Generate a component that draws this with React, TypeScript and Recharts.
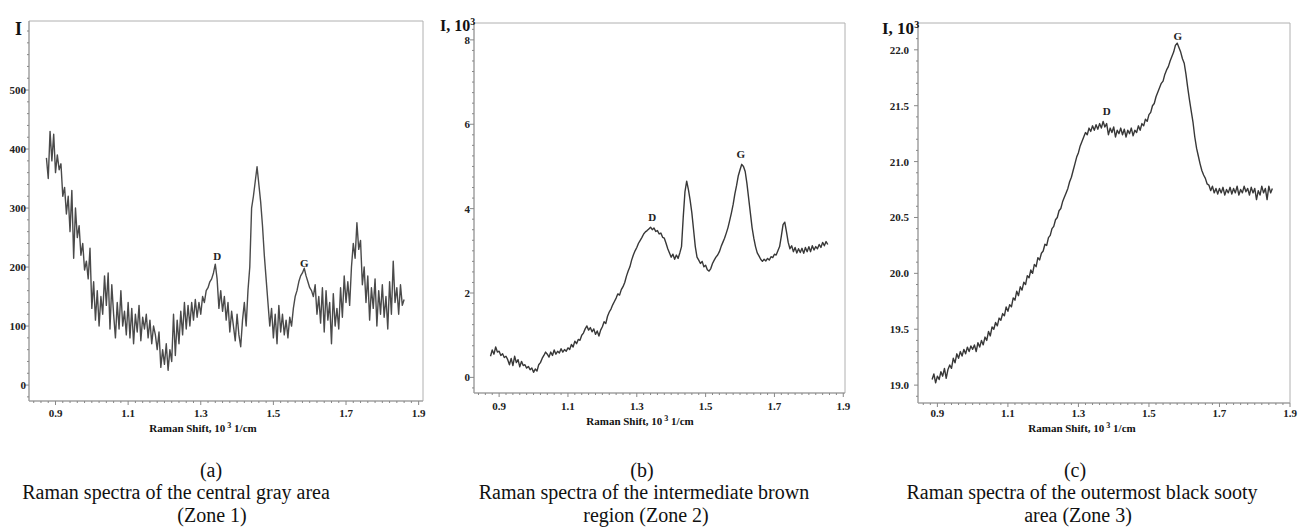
import React from "react";
import { LineChart, Line, XAxis, YAxis, ReferenceArea, ReferenceDot } from "recharts";

// the page keeps the browser's 8px body margin; the figure is laid out edge to edge
document.body.style.margin = "0";

// Raman shift (10^3 1/cm) vs intensity
const zone1Spectrum: [number, number][] = [
  [0.875, 385], [0.88, 350], [0.885, 430], [0.89, 380], [0.895, 425], [0.9, 360], [0.905, 390], [0.91, 365],
  [0.915, 375], [0.92, 320], [0.925, 335], [0.93, 290], [0.935, 320], [0.94, 260], [0.945, 330], [0.95, 215],
  [0.955, 300], [0.96, 250], [0.965, 270], [0.97, 220], [0.975, 240], [0.98, 195], [0.985, 210], [0.99, 180],
  [0.995, 232], [1.0, 130], [1.005, 175], [1.01, 110], [1.015, 160], [1.02, 100], [1.025, 150], [1.03, 120],
  [1.035, 185], [1.04, 135], [1.045, 190], [1.05, 95], [1.055, 170], [1.06, 120], [1.065, 80], [1.07, 140],
  [1.075, 95], [1.08, 160], [1.085, 100], [1.09, 125], [1.095, 85], [1.1, 140], [1.105, 80], [1.11, 130],
  [1.115, 70], [1.12, 120], [1.125, 90], [1.13, 135], [1.135, 75], [1.14, 115], [1.145, 95], [1.15, 120],
  [1.155, 80], [1.16, 110], [1.165, 70], [1.17, 100], [1.175, 85], [1.18, 60], [1.185, 90], [1.19, 30],
  [1.195, 60], [1.2, 35], [1.205, 70], [1.21, 25], [1.215, 60], [1.22, 40], [1.225, 120], [1.23, 50],
  [1.235, 110], [1.24, 70], [1.245, 125], [1.25, 85], [1.255, 140], [1.26, 95], [1.265, 135], [1.27, 100],
  [1.275, 140], [1.28, 110], [1.285, 145], [1.29, 115], [1.295, 140], [1.3, 120], [1.305, 150], [1.31, 140],
  [1.315, 160], [1.32, 165], [1.325, 175], [1.33, 180], [1.335, 190], [1.34, 205], [1.345, 180], [1.35, 130],
  [1.355, 160], [1.36, 125], [1.365, 150], [1.37, 110], [1.375, 140], [1.38, 90], [1.385, 125], [1.39, 100],
  [1.395, 75], [1.4, 120], [1.405, 85], [1.41, 65], [1.415, 110], [1.42, 140], [1.425, 100], [1.43, 160],
  [1.435, 200], [1.44, 300], [1.445, 320], [1.45, 345], [1.455, 370], [1.46, 340], [1.465, 310], [1.47, 270],
  [1.475, 220], [1.48, 180], [1.485, 140], [1.49, 100], [1.495, 130], [1.5, 80], [1.505, 120], [1.51, 70],
  [1.515, 135], [1.52, 90], [1.525, 120], [1.53, 85], [1.535, 110], [1.54, 80], [1.545, 115], [1.55, 100],
  [1.555, 130], [1.56, 150], [1.565, 160], [1.57, 175], [1.575, 185], [1.58, 190], [1.585, 198], [1.59, 185],
  [1.595, 175], [1.6, 165], [1.605, 160], [1.61, 150], [1.615, 170], [1.62, 120], [1.625, 150], [1.63, 105],
  [1.635, 165], [1.64, 90], [1.645, 160], [1.65, 110], [1.655, 140], [1.66, 70], [1.665, 155], [1.67, 100],
  [1.675, 130], [1.68, 95], [1.685, 165], [1.69, 115], [1.695, 185], [1.7, 140], [1.705, 175], [1.71, 135],
  [1.715, 200], [1.72, 240], [1.725, 215], [1.73, 275], [1.735, 230], [1.74, 245], [1.745, 170], [1.75, 200],
  [1.755, 140], [1.76, 185], [1.765, 110], [1.77, 165], [1.775, 130], [1.78, 180], [1.785, 100], [1.79, 160],
  [1.795, 120], [1.8, 170], [1.805, 115], [1.81, 150], [1.815, 95], [1.82, 175], [1.825, 120], [1.83, 210],
  [1.835, 140], [1.84, 165], [1.845, 120], [1.85, 170], [1.855, 135], [1.86, 145],
];

const zone2Spectrum: [number, number][] = [
  [0.875, 0.5], [0.88, 0.65], [0.885, 0.55], [0.89, 0.72], [0.895, 0.6], [0.9, 0.62], [0.905, 0.52], [0.91, 0.56],
  [0.915, 0.47], [0.92, 0.5], [0.925, 0.42], [0.93, 0.3], [0.935, 0.45], [0.94, 0.28], [0.945, 0.5], [0.95, 0.35],
  [0.955, 0.42], [0.96, 0.25], [0.965, 0.38], [0.97, 0.28], [0.975, 0.3], [0.98, 0.22], [0.985, 0.26], [0.99, 0.18],
  [0.995, 0.22], [1.0, 0.12], [1.005, 0.2], [1.01, 0.15], [1.015, 0.3], [1.02, 0.35], [1.025, 0.45], [1.03, 0.52],
  [1.035, 0.6], [1.04, 0.55], [1.045, 0.48], [1.05, 0.6], [1.055, 0.52], [1.06, 0.65], [1.065, 0.55], [1.07, 0.62],
  [1.075, 0.58], [1.08, 0.68], [1.085, 0.6], [1.09, 0.66], [1.095, 0.62], [1.1, 0.7], [1.105, 0.66], [1.11, 0.78],
  [1.115, 0.72], [1.12, 0.86], [1.125, 0.8], [1.13, 0.9], [1.135, 0.88], [1.14, 1.0], [1.145, 1.05], [1.15, 1.15],
  [1.155, 1.22], [1.16, 1.12], [1.165, 1.18], [1.17, 1.08], [1.175, 1.15], [1.18, 1.02], [1.185, 1.1], [1.19, 0.98],
  [1.195, 1.12], [1.2, 1.2], [1.205, 1.32], [1.21, 1.28], [1.215, 1.45], [1.22, 1.55], [1.225, 1.62], [1.23, 1.72],
  [1.235, 1.8], [1.24, 1.88], [1.245, 1.98], [1.25, 1.95], [1.255, 2.08], [1.26, 2.15], [1.265, 2.25], [1.27, 2.4],
  [1.275, 2.52], [1.28, 2.62], [1.285, 2.78], [1.29, 2.9], [1.295, 3.0], [1.3, 3.08], [1.305, 3.18], [1.31, 3.25],
  [1.315, 3.32], [1.32, 3.4], [1.325, 3.45], [1.33, 3.48], [1.335, 3.52], [1.34, 3.56], [1.345, 3.5], [1.35, 3.54],
  [1.355, 3.46], [1.36, 3.48], [1.365, 3.4], [1.37, 3.42], [1.375, 3.32], [1.38, 3.3], [1.385, 3.18], [1.39, 3.05],
  [1.395, 2.95], [1.4, 2.85], [1.405, 2.92], [1.41, 2.8], [1.415, 2.9], [1.42, 2.82], [1.425, 2.95], [1.43, 3.1],
  [1.435, 3.8], [1.44, 4.4], [1.445, 4.65], [1.45, 4.45], [1.455, 4.2], [1.46, 3.9], [1.465, 3.5], [1.47, 3.1],
  [1.475, 2.85], [1.48, 2.78], [1.485, 2.7], [1.49, 2.75], [1.495, 2.62], [1.5, 2.66], [1.505, 2.55], [1.51, 2.52],
  [1.515, 2.58], [1.52, 2.7], [1.525, 2.78], [1.53, 2.85], [1.535, 2.9], [1.54, 2.98], [1.545, 3.1], [1.55, 3.2],
  [1.555, 3.3], [1.56, 3.42], [1.565, 3.55], [1.57, 3.72], [1.575, 3.9], [1.58, 4.1], [1.585, 4.35], [1.59, 4.55],
  [1.595, 4.78], [1.6, 4.92], [1.605, 5.05], [1.61, 5.0], [1.615, 4.88], [1.62, 4.6], [1.625, 4.25], [1.63, 3.9],
  [1.635, 3.55], [1.64, 3.3], [1.645, 3.1], [1.65, 2.95], [1.655, 2.88], [1.66, 2.8], [1.665, 2.75], [1.67, 2.8],
  [1.675, 2.76], [1.68, 2.82], [1.685, 2.78], [1.69, 2.86], [1.695, 2.84], [1.7, 2.92], [1.705, 2.9], [1.71, 3.0],
  [1.715, 3.1], [1.72, 3.35], [1.725, 3.62], [1.73, 3.68], [1.735, 3.45], [1.74, 3.2], [1.745, 3.05], [1.75, 3.12],
  [1.755, 2.98], [1.76, 3.08], [1.765, 2.95], [1.77, 3.05], [1.775, 2.96], [1.78, 3.06], [1.785, 2.94], [1.79, 3.08],
  [1.795, 2.98], [1.8, 3.1], [1.805, 2.98], [1.81, 3.12], [1.815, 3.02], [1.82, 3.1], [1.825, 3.05], [1.83, 3.15],
  [1.835, 3.08], [1.84, 3.2], [1.845, 3.12], [1.85, 3.22], [1.855, 3.15],
];

const zone3Spectrum: [number, number][] = [
  [0.885, 19.05], [0.89, 19.1], [0.895, 19.02], [0.9, 19.08], [0.905, 19.05], [0.91, 19.12], [0.915, 19.08],
  [0.92, 19.15], [0.925, 19.06], [0.93, 19.14], [0.935, 19.18], [0.94, 19.15], [0.945, 19.24], [0.95, 19.2],
  [0.955, 19.28], [0.96, 19.24], [0.965, 19.3], [0.97, 19.26], [0.975, 19.32], [0.98, 19.28], [0.985, 19.34],
  [0.99, 19.3], [0.995, 19.35], [1.0, 19.32], [1.005, 19.36], [1.01, 19.3], [1.015, 19.38], [1.02, 19.34],
  [1.025, 19.4], [1.03, 19.36], [1.035, 19.43], [1.04, 19.4], [1.045, 19.48], [1.05, 19.44], [1.055, 19.52],
  [1.06, 19.5], [1.065, 19.56], [1.07, 19.53], [1.075, 19.6], [1.08, 19.58], [1.085, 19.64], [1.09, 19.62],
  [1.095, 19.7], [1.1, 19.66], [1.105, 19.72], [1.11, 19.7], [1.115, 19.78], [1.12, 19.76], [1.125, 19.84],
  [1.13, 19.8], [1.135, 19.88], [1.14, 19.85], [1.145, 19.92], [1.15, 19.9], [1.155, 19.98], [1.16, 19.96],
  [1.165, 20.03], [1.17, 20.0], [1.175, 20.08], [1.18, 20.06], [1.185, 20.14], [1.19, 20.12], [1.195, 20.18],
  [1.2, 20.2], [1.205, 20.26], [1.21, 20.25], [1.215, 20.32], [1.22, 20.34], [1.225, 20.4], [1.23, 20.42],
  [1.235, 20.48], [1.24, 20.5], [1.245, 20.56], [1.25, 20.58], [1.255, 20.64], [1.26, 20.68], [1.265, 20.72],
  [1.27, 20.76], [1.275, 20.82], [1.28, 20.86], [1.285, 20.92], [1.29, 20.98], [1.295, 21.04], [1.3, 21.08],
  [1.305, 21.14], [1.31, 21.18], [1.315, 21.22], [1.32, 21.26], [1.325, 21.24], [1.33, 21.3], [1.335, 21.27],
  [1.34, 21.32], [1.345, 21.28], [1.35, 21.33], [1.355, 21.29], [1.36, 21.34], [1.365, 21.3], [1.37, 21.36],
  [1.375, 21.31], [1.38, 21.34], [1.385, 21.24], [1.39, 21.3], [1.395, 21.26], [1.4, 21.31], [1.405, 21.22],
  [1.41, 21.28], [1.415, 21.25], [1.42, 21.3], [1.425, 21.24], [1.43, 21.29], [1.435, 21.22], [1.44, 21.28],
  [1.445, 21.25], [1.45, 21.3], [1.455, 21.23], [1.46, 21.28], [1.465, 21.26], [1.47, 21.32], [1.475, 21.28],
  [1.48, 21.34], [1.485, 21.32], [1.49, 21.38], [1.495, 21.36], [1.5, 21.42], [1.505, 21.44], [1.51, 21.5],
  [1.515, 21.52], [1.52, 21.58], [1.525, 21.62], [1.53, 21.66], [1.535, 21.7], [1.54, 21.72], [1.545, 21.78],
  [1.55, 21.82], [1.555, 21.85], [1.56, 21.9], [1.565, 21.94], [1.57, 21.98], [1.575, 22.04], [1.58, 22.06],
  [1.585, 22.02], [1.59, 21.98], [1.595, 21.92], [1.6, 21.88], [1.605, 21.78], [1.61, 21.66], [1.615, 21.55],
  [1.62, 21.45], [1.625, 21.35], [1.63, 21.22], [1.635, 21.12], [1.64, 21.05], [1.645, 20.98], [1.65, 20.92],
  [1.655, 20.88], [1.66, 20.85], [1.665, 20.8], [1.67, 20.79], [1.675, 20.74], [1.68, 20.78], [1.685, 20.72],
  [1.69, 20.76], [1.695, 20.71], [1.7, 20.76], [1.705, 20.72], [1.71, 20.77], [1.715, 20.7], [1.72, 20.75],
  [1.725, 20.72], [1.73, 20.77], [1.735, 20.71], [1.74, 20.76], [1.745, 20.72], [1.75, 20.78], [1.755, 20.7],
  [1.76, 20.75], [1.765, 20.72], [1.77, 20.78], [1.775, 20.73], [1.78, 20.76], [1.785, 20.7], [1.79, 20.77],
  [1.795, 20.72], [1.8, 20.76], [1.805, 20.66], [1.81, 20.74], [1.815, 20.7], [1.82, 20.78], [1.825, 20.72],
  [1.83, 20.76], [1.835, 20.66], [1.84, 20.78], [1.845, 20.72], [1.85, 20.76],
];

const shiftTicks = [0.9, 1.1, 1.3, 1.5, 1.7, 1.9];
const zone1Ticks = [0, 100, 200, 300, 400, 500];
const zone2Ticks = [0, 2, 4, 6, 8];
const zone3Ticks = [19.0, 19.5, 20.0, 20.5, 21.0, 21.5, 22.0];

const zone1Peaks = [{ name: "D", shift: 1.345, intensity: 219 }, { name: "G", shift: 1.585, intensity: 207 }];
const zone2Peaks = [{ name: "D", shift: 1.345, intensity: 3.79 }, { name: "G", shift: 1.602, intensity: 5.3 }];
const zone3Peaks = [{ name: "D", shift: 1.38, intensity: 21.45 }, { name: "G", shift: 1.582, intensity: 22.125 }];

const serif = "'Liberation Serif', 'Times New Roman', serif";

function steps(from: number, to: number, step: number) {
  const out: number[] = [];
  for (let i = 0; from + i * step <= to + 1e-9; i++) out.push(Math.round((from + i * step) * 1000) / 1000);
  return out;
}

const isMajor = (labels: number[], v: number) => labels.some((l) => Math.abs(l - v) < 1e-6);

function Panel({ width, height, frame, xDomain, yDomain, yLabels, yMinor, yDigits, yGap, xLabelDy, data, peaks, stroke, strokeWidth }: any) {
  const rows = data.map(([shift, intensity]: [number, number]) => ({ shift, intensity }));
  const xTicks = steps(0.84, 1.9, 0.02).filter((v) => v >= xDomain[0] && v <= xDomain[1]);
  const yTicks = steps(yMinor[0], yDomain[1], yMinor[1]).filter((v) => v >= yDomain[0]);

  const xTick = (p: any) => {
    const major = isMajor(shiftTicks, p.payload.value);
    return (
      <g>
        <line x1={p.x} y1={p.y} x2={p.x} y2={p.y + (major ? 4 : 2)} stroke="#888" />
        {major && (
          <text x={p.x} y={p.y + xLabelDy} textAnchor="middle" dominantBaseline="central"
            fontFamily={serif} fontWeight={700} fontSize={11} fill="#222">
            {p.payload.value.toFixed(1)}
          </text>
        )}
      </g>
    );
  };

  const yTick = (p: any) => {
    const major = isMajor(yLabels, p.payload.value);
    return (
      <g>
        <line x1={p.x} y1={p.y} x2={p.x - (major ? 4 : 2)} y2={p.y} stroke="#888" />
        {major && (
          <text x={p.x - yGap} y={p.y} textAnchor="end" dominantBaseline="central"
            fontFamily={serif} fontWeight={700} fontSize={11} fill="#222">
            {p.payload.value.toFixed(yDigits)}
          </text>
        )}
      </g>
    );
  };

  return (
    <div style={{ position: "absolute", left: 0, top: 0 }}>
      <LineChart width={width} height={height} data={rows} style={{ overflow: "visible" }}
        margin={{ top: frame.top, right: width - frame.right, bottom: height - frame.bottom - 20, left: 0 }}>
        <ReferenceArea x1={xDomain[0]} x2={xDomain[1]} y1={yDomain[0]} y2={yDomain[1]}
          fill="none" stroke="#b0b0b0" strokeWidth={1} ifOverflow="visible" />
        <XAxis dataKey="shift" type="number" domain={xDomain} allowDataOverflow ticks={xTicks} interval={0}
          height={20} tickSize={0} tickMargin={0} tickLine={false} tick={xTick}
          axisLine={{ stroke: "#999" }} />
        <YAxis type="number" domain={yDomain} allowDataOverflow ticks={yTicks} interval={0}
          width={frame.left} tickSize={0} tickMargin={0} tickLine={false} tick={yTick}
          axisLine={{ stroke: "#999" }} />
        <Line dataKey="intensity" type="linear" dot={false} stroke={stroke} strokeWidth={strokeWidth}
          strokeLinejoin="round" isAnimationActive={false} />
        {peaks.map((pk: any) => (
          <ReferenceDot key={pk.name} x={pk.shift} y={pk.intensity} r={0} fill="none" stroke="none"
            label={{ value: pk.name, position: "center", fill: "#222", fontSize: 11, fontWeight: 700, fontFamily: serif }} />
        ))}
      </LineChart>
    </div>
  );
}

const txt: React.CSSProperties = { position: "absolute", fontFamily: serif, whiteSpace: "nowrap", color: "#111" };

function ShiftTitle({ cx, cy }: { cx: number; cy: number }) {
  return (
    <div style={{ ...txt, left: cx, top: cy - 7, transform: "translateX(-50%)", fontSize: 11, fontWeight: 700, lineHeight: "14px" }}>
      Raman Shift, 10<span style={{ fontSize: 8, position: "relative", top: -4, marginLeft: 2 }}>3</span> 1/cm
    </div>
  );
}

function Caption({ x, lines }: { x: number[]; lines: string[] }) {
  const ys = [470, 492, 515];
  return (
    <>
      {lines.map((l, i) => (
        <div key={i} style={{ ...txt, left: x[i], top: ys[i] - 11, transform: "translateX(-50%)", fontSize: 20, lineHeight: "22px" }}>
          {l}
        </div>
      ))}
    </>
  );
}

export default function App() {
  return (
    <div style={{ position: "relative", width: 1298, height: 527, background: "#fff", overflow: "hidden" }}>
      <Panel width={440} height={440}
        frame={{ left: 29, right: 423, top: 21, bottom: 401 }}
        xDomain={[0.827, 1.912]} yDomain={[-27, 617]} yLabels={zone1Ticks} yMinor={[-20, 20]} yDigits={0}
        yGap={3} xLabelDy={12} data={zone1Spectrum} peaks={zone1Peaks} stroke="#4a4a4a" strokeWidth={1.4} />
      <Panel width={880} height={440}
        frame={{ left: 474, right: 845, top: 23, bottom: 393 }}
        xDomain={[0.827, 1.905]} yDomain={[-0.37, 8.4]} yLabels={zone2Ticks} yMinor={[-0.25, 0.25]} yDigits={0}
        yGap={4} xLabelDy={13} data={zone2Spectrum} peaks={zone2Peaks} stroke="#383838" strokeWidth={1.4} />
      <Panel width={1298} height={440}
        frame={{ left: 918, right: 1290, top: 23, bottom: 403 }}
        xDomain={[0.845, 1.9]} yDomain={[18.84, 22.24]} yLabels={zone3Ticks} yMinor={[18.9, 0.1]} yDigits={1}
        yGap={9} xLabelDy={10} data={zone3Spectrum} peaks={zone3Peaks} stroke="#383838" strokeWidth={1.4} />

      <div style={{ ...txt, left: 15, top: 19, fontSize: 18, fontWeight: 700, lineHeight: "20px" }}>I</div>
      <div style={{ ...txt, left: 440, top: 17, fontSize: 16, fontWeight: 700, lineHeight: "18px" }}>
        I, 10<span style={{ fontSize: 10, position: "relative", top: -6 }}>3</span>
      </div>
      <div style={{ ...txt, left: 882, top: 20, fontSize: 17, fontWeight: 700, lineHeight: "18px" }}>
        I, 10<span style={{ fontSize: 10, position: "relative", top: -6 }}>3</span>
      </div>

      <ShiftTitle cx={203} cy={428} />
      <ShiftTitle cx={640} cy={421} />
      <ShiftTitle cx={1082} cy={428} />

      <Caption x={[211, 176, 212]} lines={["(a)", "Raman spectra of the central gray area", "(Zone 1)"]} />
      <Caption x={[642, 644, 646]} lines={["(b)", "Raman spectra of the intermediate brown", "region (Zone 2)"]} />
      <Caption x={[1075, 1082, 1078]} lines={["(c)", "Raman spectra of the outermost black sooty", "area (Zone 3)"]} />
    </div>
  );
}
